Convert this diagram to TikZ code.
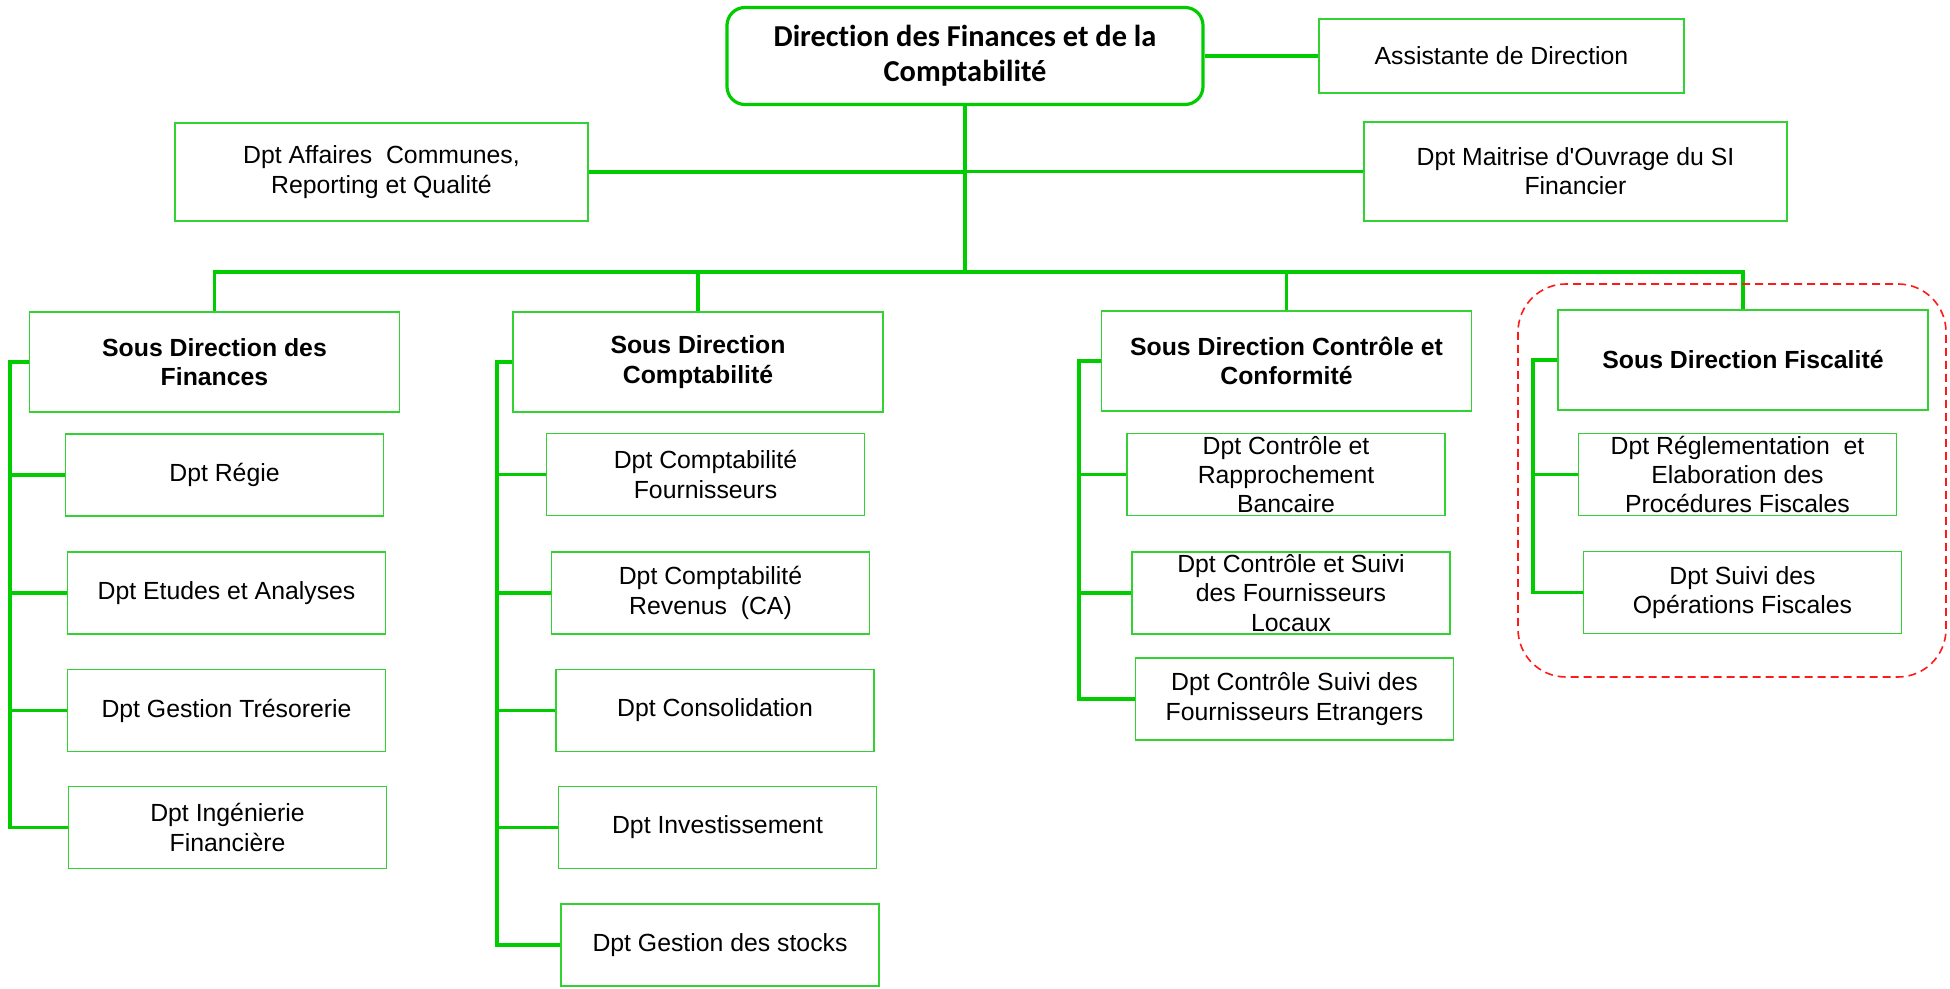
\documentclass[tikz,border=0pt]{standalone}
\usepackage{fontspec}
\setmainfont{Liberation Sans}
\newfontfamily\calib[Ligatures={NoCommon}]{Carlito}
\definecolor{linegreen}{RGB}{0,204,0}
\definecolor{boxgreen}{RGB}{50,210,50}
\begin{document}
\begin{tikzpicture}[x=0.5pt,y=-0.5pt,
    every node/.style={font=\fontsize{12.4}{14.6}\selectfont},
    box/.style={draw=boxgreen,line width=0.9pt,align=center,inner sep=0pt},
    dept/.style={box,minimum width=159pt,minimum height=41pt},
    sdbox/.style={box,minimum width=185pt,minimum height=50pt,font=\fontsize{12.4}{14.6}\selectfont\bfseries},
    link/.style={draw=linegreen,line width=1.7pt}]
    \useasboundingbox (0,0) rectangle (1950,989);
    % direction
    \node[box,draw=linegreen,line width=1.6pt,rounded corners=9pt,minimum width=238pt,minimum height=48.5pt,
      font=\calib\fontsize{15.2}{17.4}\selectfont\bfseries] (dir) at (965,56) {Direction des Finances et de la\\Comptabilité};
    \node[box,minimum width=182.5pt,minimum height=37pt] (asst) at (1501.5,56) {Assistante de Direction};
    \node[box,minimum width=206.5pt,minimum height=49pt] (aff) at (381.5,172) {Dpt Affaires~ Communes,\\Reporting et Qualité};
    \node[box,minimum width=211.5pt,minimum height=49.5pt] (moa) at (1575.5,171.5) {Dpt Maitrise d\textquotesingle Ouvrage du SI\\Financier};
    \coordinate (bus) at (965,272);
    % sous directions
    \node[sdbox] (sdf) at (214.5,362) {Sous Direction des\\Finances};
    \node[sdbox] (sdc) at (698,362) {Sous Direction\\Comptabilité};
    \node[sdbox] (sdcc) at (1286.5,361) {Sous Direction Contrôle et\\Conformité};
    \node[sdbox] (sdfisc) at (1743,360) {Sous Direction Fiscalité};
    % departements
    \node[dept] (regie) at (224.5,475) {Dpt Régie};
    \node[dept] (etudes) at (226.5,593) {Dpt Etudes et Analyses};
    \node[dept] (treso) at (226.5,710.5) {Dpt Gestion Trésorerie};
    \node[dept] (ingen) at (227.5,827.5) {Dpt Ingénierie\\Financière};
    \node[dept] (fourn) at (705.5,474.5) {Dpt Comptabilité\\Fournisseurs};
    \node[dept] (reven) at (710.5,593) {Dpt Comptabilité\\Revenus~ (CA)};
    \node[dept] (conso) at (715,710.5) {Dpt Consolidation};
    \node[dept] (invest) at (717.5,827.5) {Dpt Investissement};
    \node[dept] (stocks) at (720,945) {Dpt Gestion des stocks};
    \node[dept] (rappro) at (1286,474.5) {Dpt Contrôle et\\Rapprochement\\Bancaire};
    \node[dept] (locaux) at (1291,593) {Dpt Contrôle et Suivi\\des Fournisseurs\\Locaux};
    \node[dept] (etrang) at (1294.5,699) {Dpt Contrôle Suivi des\\Fournisseurs Etrangers};
    \node[dept] (regle) at (1737.5,474.5) {Dpt Réglementation~ et\\Elaboration des\\Procédures Fiscales};
    \node[dept] (opfisc) at (1742.5,592.5) {Dpt Suivi des\\Opérations Fiscales};
    % liens
    \draw[link] (dir.east) -- (asst.west);
    \draw[link] (dir.south) -- (bus);
    \draw[link] (aff.east) -- (aff.east -| dir.south);
    \draw[link] (moa.west) -- (moa.west -| dir.south);
    \draw[link] (sdf.north) |- (bus) -| (sdfisc.north);
    \draw[link] (sdc.north) -- (sdc.north |- bus);
    \draw[link] (sdcc.north) -- (sdcc.north |- bus);
    \coordinate (r1) at (10,0);
    \coordinate (r2) at (497,0);
    \coordinate (r3) at (1079,0);
    \coordinate (r4) at (1533,0);
    \draw[link] (sdf.west) -| (r1 |- ingen.west) -- (ingen.west);
    \foreach \d in {regie,etudes,treso} \draw[link] (\d.west) -- (\d.west -| r1);
    \draw[link] (sdc.west) -| (r2 |- stocks.west) -- (stocks.west);
    \foreach \d in {fourn,reven,conso,invest} \draw[link] (\d.west) -- (\d.west -| r2);
    \draw[link] (sdcc.west) -| (r3 |- etrang.west) -- (etrang.west);
    \foreach \d in {rappro,locaux} \draw[link] (\d.west) -- (\d.west -| r3);
    \draw[link] (sdfisc.west) -| (r4 |- opfisc.west) -- (opfisc.west);
    \draw[link] (regle.west) -- (regle.west -| r4);
    % zone fiscalite
    \draw[red!90!white,dashed,line width=0.8pt,dash pattern=on 4pt off 2.5pt,rounded corners=24pt] (1518,284) rectangle (1946,677);
\end{tikzpicture}
\end{document}
